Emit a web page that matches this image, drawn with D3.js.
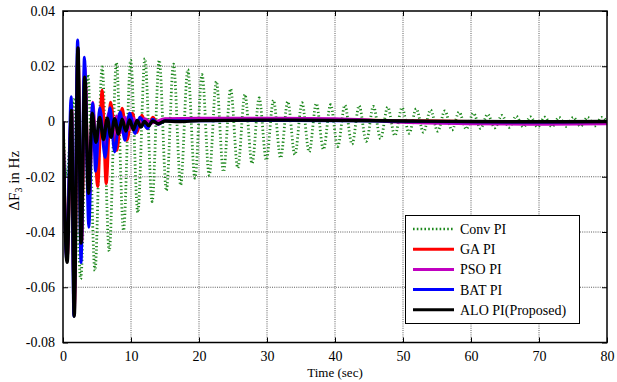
<!DOCTYPE html>
<html>
<head>
<meta charset="utf-8">
<script src="https://cdn.jsdelivr.net/npm/d3@7"></script>
<style>
  body { margin: 0; background: #fff; }
  text { font-family: "Liberation Serif", "Times New Roman", serif; }
</style>
</head>
<body>
<div id="chart"></div>
<script>
////////////////////////////////////////////////////////////////////////
// Data

// axis ticks
let xTicks = [0, 10, 20, 30, 40, 50, 60, 70, 80];
let yTicks = [-0.08, -0.06, -0.04, -0.02, 0, 0.02, 0.04];
let yTickLabels = ["-0.08", "-0.06", "-0.04", "-0.02", "0", "0.02", "0.04"];

// Conv PI: successive troughs / peaks, one every convDt seconds from convT0
let convT0 = 0.5;
let convDt = 1.05;
let convPeaks = [
  -0.02, 0.008, -0.057, 0.017, -0.054, 0.0198, -0.047, 0.0213, -0.0395, 0.0222,
  -0.033, 0.0228, -0.029, 0.0222, -0.025, 0.0208, -0.023, 0.0188, -0.0205, 0.017,
  -0.0195, 0.0145, -0.0182, 0.0118, -0.0168, 0.0098, -0.0152, 0.0085, -0.014, 0.0077,
  -0.0132, 0.0072, -0.012, 0.0068, -0.011, 0.0065, -0.0101, 0.0061, -0.0091, 0.0059,
  -0.0082, 0.0057, -0.0072, 0.0055, -0.0062, 0.0052, -0.0051, 0.005, -0.0043, 0.0046,
  -0.0039, 0.0042, -0.0035, 0.0038, -0.0031, 0.0034, -0.0027, 0.003, -0.0025, 0.0026,
  -0.0023, 0.0022, -0.0021, 0.0019, -0.002, 0.0017, -0.002, 0.0016, -0.0019, 0.0015,
  -0.0018, 0.0015, -0.0017, 0.0015, -0.0016, 0.0015
];

// GA PI  [time, value]
let gaData = [
  [0, 0], [0.6, -0.05], [1.25, 0.005], [1.65, -0.068], [2.2, 0.025], [2.7, -0.045],
  [3.25, 0.015], [3.8, -0.03], [4.4, 0.004], [5.1, -0.0235], [5.75, 0.0113],
  [6.35, -0.0225], [7.0, 0.007], [7.9, -0.0105], [8.7, 0.0048], [9.4, -0.0068],
  [10.2, 0.003], [10.9, -0.004], [11.6, 0.0023], [12.4, -0.0025], [13.2, 0.0015],
  [14, -0.001], [15, 0.0008], [17, 0.0003], [20, 0.0008], [30, 0.0008], [40, 0.0006],
  [50, 0.0003], [60, 0.0], [70, -0.0003], [80, -0.0003]
];

// PSO PI
let psoData = [
  [0, 0], [0.6, -0.05], [1.25, 0.006], [1.65, -0.07], [2.2, 0.027], [2.7, -0.045],
  [3.2, 0.02], [3.8, -0.03], [4.4, 0.007], [4.9, -0.014], [5.5, 0.004], [6.1, -0.009],
  [6.7, 0.003], [7.3, -0.006], [7.9, 0.002], [8.5, -0.004], [9.1, 0.0015], [9.7, -0.003],
  [10.3, 0.0012], [11, -0.0015], [12, 0.001], [13, -0.0005], [15, 0.001], [20, 0.0012],
  [30, 0.0012], [40, 0.001], [45, 0.0005], [50, -0.0003], [60, -0.0008], [70, -0.001],
  [80, -0.0008]
];

// BAT PI
let batData = [
  [0, 0], [0.55, -0.05], [1.2, 0.009], [1.6, -0.0705], [2.15, 0.0295], [2.65, -0.051],
  [3.15, 0.0233], [3.8, -0.0383], [4.35, 0.0066], [4.8, -0.018], [5.4, 0.005],
  [6.2, -0.013], [6.9, 0.005], [7.6, -0.011], [8.4, 0.0034], [9.1, -0.0068], [9.8, 0.003],
  [10.6, -0.0043], [11.3, 0.0015], [12.4, -0.0025], [13.2, 0.0008], [14, -0.001],
  [15, 0.0003], [20, 0.0003], [30, 0.0004], [40, 0.0003], [50, 0.0001], [60, -0.0001],
  [70, -0.0002], [80, 0.0]
];

// ALO PI (Proposed)
let aloData = [
  [0, 0], [0.6, -0.051], [1.25, 0.004], [1.65, -0.0705], [2.2, 0.0266], [2.65, -0.044],
  [3.2, 0.016], [3.75, -0.026], [4.3, 0.003], [4.85, -0.0075], [5.4, 0.0015],
  [5.95, -0.0065], [6.5, 0.0012], [7.05, -0.0057], [7.6, 0.001], [8.15, -0.0045],
  [8.7, 0.0008], [9.25, -0.0035], [9.8, 0.0006], [10.35, -0.003], [10.9, 0.0004],
  [11.45, -0.002], [12.0, 0.0], [12.6, -0.0015], [13.2, 0.0002], [14, -0.0008],
  [15, 0.0002], [17, 0.0], [20, 0.0003], [30, 0.0005], [40, 0.0004], [50, 0.0002],
  [60, 0.0], [70, -0.0001], [80, 0.0]
];

let seriesNames = ["Conv PI", "GA PI", "PSO PI", "BAT PI", "ALO PI(Proposed)"];
let seriesColors = ["#1c881c", "#ff0000", "#c000c0", "#0000ff", "#000000"];

// Conv PI as [time, value] pairs
let convData = [[0, 0]]
  .concat(convPeaks.map(function(v, i) { return [convT0 + i * convDt, v]; }))
  .concat([[80, 0]]);

////////////////////////////////////////////////////////////////////////
// svg and scales

let width = 617;
let height = 382;
let margin = { left: 63, right: 10, top: 11, bottom: 40 };

let svg = d3.select("#chart")
  .append("svg")
  .attr("width", width).attr("height", height);

let xScale = d3.scaleLinear()
  .domain([0, 80])
  .range([margin.left, width - margin.right]);

let yScale = d3.scaleLinear()
  .domain([-0.08, 0.04])
  .range([height - margin.bottom + 0.5, margin.top]);

let x0 = xScale.range()[0], x1 = xScale.range()[1];
let y0 = yScale.range()[0], y1 = yScale.range()[1];

// clip lines to the plotting area
svg.append("clipPath").attr("id", "plotclip")
  .append("rect")
  .attr("x", x0).attr("y", y1)
  .attr("width", x1 - x0).attr("height", y0 - y1);

////////////////////////////////////////////////////////////////////////
// grid

let grid = svg.append("g").attr("class", "grid");

grid.selectAll(".vgrid")
  .data(xTicks.slice(1, -1))
  .enter().append("line")
  .attr("x1", function(d) { return xScale(d); })
  .attr("x2", function(d) { return xScale(d); })
  .attr("y1", y1).attr("y2", y0)
  .style("stroke", "#333").style("stroke-width", 0.8)
  .style("stroke-dasharray", "1,1.2");

grid.selectAll(".hgrid")
  .data(yTicks.slice(1, -1))
  .enter().append("line")
  .attr("y1", function(d) { return yScale(d); })
  .attr("y2", function(d) { return yScale(d); })
  .attr("x1", x0).attr("x2", x1)
  .style("stroke", "#333").style("stroke-width", 0.8)
  .style("stroke-dasharray", "1,1.2");

////////////////////////////////////////////////////////////////////////
// lines

let line = d3.line()
  .x(function(d) { return xScale(d[0]); })
  .y(function(d) { return yScale(d[1]); })
  .curve(d3.curveMonotoneX);

let allSeries = [convData, gaData, psoData, batData, aloData];
let widths = [2.8, 3, 3, 3, 3.4];

let lines = svg.append("g").attr("clip-path", "url(#plotclip)");
allSeries.forEach(function(s, i) {
  lines.append("path")
    .datum(s)
    .attr("d", line)
    .style("fill", "none")
    .style("stroke", seriesColors[i])
    .style("stroke-width", widths[i])
    .style("stroke-linejoin", "round")
    .style("stroke-dasharray", i === 0 ? "1.2,2.4" : null);
});

////////////////////////////////////////////////////////////////////////
// axes (MATLAB style, ticks inside, box on)

let axisBottom = d3.axisBottom(xScale).tickValues(xTicks).tickSizeInner(-5).tickSizeOuter(0).tickPadding(9);
let axisTop = d3.axisTop(xScale).tickValues(xTicks).tickSizeInner(-5).tickSizeOuter(0).tickFormat("");
let axisLeft = d3.axisLeft(yScale).tickValues(yTicks).tickSizeInner(-5).tickSizeOuter(0).tickPadding(8)
  .tickFormat(function(d, i) { return yTickLabels[i]; });
let axisRight = d3.axisRight(yScale).tickValues(yTicks).tickSizeInner(-5).tickSizeOuter(0).tickFormat("");

function styleAxis(g) {
  g.select(".domain").remove();
  g.selectAll("line").style("stroke", "#000").style("stroke-width", 1);
  g.selectAll("text").style("font-size", "14px").style("fill", "#000")
    .style("font-family", "'Liberation Serif', serif");
}

svg.append("g").attr("transform", "translate(0," + y0 + ")").call(axisBottom).call(styleAxis);
svg.append("g").attr("transform", "translate(0," + y1 + ")").call(axisTop).call(styleAxis);
svg.append("g").attr("transform", "translate(" + x0 + ",0)").call(axisLeft).call(styleAxis);
svg.append("g").attr("transform", "translate(" + x1 + ",0)").call(axisRight).call(styleAxis);

// frame
svg.append("rect")
  .attr("x", x0).attr("y", y1)
  .attr("width", x1 - x0).attr("height", y0 - y1)
  .style("fill", "none").style("stroke", "#000").style("stroke-width", 1.5);

// axis labels
svg.append("text")
  .attr("x", (x0 + x1) / 2).attr("y", 377)
  .attr("text-anchor", "middle")
  .style("font-size", "13px")
  .text("Time (sec)");

let ylab = svg.append("text")
  .attr("transform", "translate(19," + ((y0 + y1) / 2 + 4) + ") rotate(-90)")
  .attr("text-anchor", "middle")
  .style("font-size", "15px");
ylab.append("tspan").text("\u0394F");
ylab.append("tspan").attr("baseline-shift", "-25%").style("font-size", "10px").text("3");
ylab.append("tspan").text(" in Hz");

////////////////////////////////////////////////////////////////////////
// legend

let legend = svg.append("g").attr("class", "legend");
legend.append("rect")
  .attr("x", 405.5).attr("y", 215.5)
  .attr("width", 174).attr("height", 108)
  .style("fill", "#fff").style("stroke", "#000").style("stroke-width", 1);

seriesNames.forEach(function(name, i) {
  let y = 229 + i * 20.2;
  legend.append("line")
    .attr("x1", 413).attr("x2", 454)
    .attr("y1", y).attr("y2", y)
    .style("stroke", seriesColors[i])
    .style("stroke-width", i === 0 ? 2.4 : 3)
    .style("stroke-dasharray", i === 0 ? "1.6,2.2" : null);
  legend.append("text")
    .attr("x", 460).attr("y", y + 5)
    .style("font-size", "14px")
    .text(name);
});
</script>
</body>
</html>
